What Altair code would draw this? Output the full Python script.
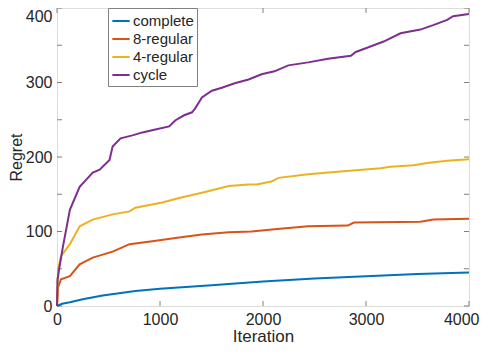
import altair as alt
import pandas as pd

series_names = ["complete", "8-regular", "4-regular", "cycle"]
series_colors = ["#0072BD", "#D95319", "#EDB120", "#7E2F8E"]

complete_it = [0, 50, 125, 250, 443, 761, 1000, 1500, 2000, 2500, 3000, 3500, 4000]
complete_val = [0, 3, 5, 9, 14, 20, 23, 28, 33, 37, 40, 43, 45]

reg8_it = [0, 10, 39, 125, 220, 347, 540, 704, 925, 1186, 1407, 1667, 1889, 2111, 2439,
           2824, 2882, 3528, 3653, 4000]
reg8_val = [0, 25, 36, 40, 56, 65, 73, 83, 87, 92, 96, 99, 100, 103, 107,
            108, 112, 113, 116, 117]

reg4_it = [0, 10, 39, 125, 220, 347, 540, 704, 761, 1022, 1186, 1407, 1667, 1860, 1937,
           2082, 2149, 2439, 2690, 3142, 3238, 3460, 3595, 3788, 4000]
reg4_val = [0, 49, 67, 83, 107, 116, 123, 127, 132, 139, 145, 152, 161, 163, 163,
            167, 172, 177, 180, 185, 187, 189, 192, 195, 197]

cycle_it = [0, 5, 20, 58, 125, 220, 280, 347, 414, 510, 540, 617, 732, 829, 955, 1089,
            1147, 1234, 1311, 1340, 1407, 1504, 1600, 1725, 1860, 1986, 2111, 2246, 2439,
            2631, 2853, 2901, 3017, 3171, 3335, 3528, 3653, 3788, 3846, 4000]
cycle_val = [0, 35, 49, 80, 129, 160, 169, 179, 183, 196, 214, 225, 229, 233, 237, 241,
             249, 256, 260, 265, 280, 289, 293, 299, 304, 311, 315, 323, 327,
             332, 336, 341, 347, 355, 366, 371, 377, 384, 389, 392]

x_ticks = [0, 1000, 2000, 3000, 4000]
y_ticks = [0, 50, 100, 150, 200, 250, 300, 350, 400]

rows = []
for name, its, vals in [("complete", complete_it, complete_val),
                        ("8-regular", reg8_it, reg8_val),
                        ("4-regular", reg4_it, reg4_val),
                        ("cycle", cycle_it, cycle_val)]:
    for i, v in zip(its, vals):
        rows.append({"Iteration": i, "Regret": v, "series": name})
df = pd.DataFrame(rows)

W, H = 412, 298
FONT = "Liberation Sans"
TXT = "#262626"
FRAME = "#808080"

xscale = alt.Scale(domain=[0, 4000], nice=False)
yscale = alt.Scale(domain=[0, 400], nice=False)

lines = alt.Chart(df).mark_line(strokeWidth=2).encode(
    x=alt.X("Iteration:Q", scale=xscale,
            axis=alt.Axis(values=x_ticks, format="d", title="Iteration", grid=False,
                          ticks=False, domain=False, labelPadding=5, labelFlush=False,
                          labelAlign={"condition": {"test": "datum.value == 4000",
                                                    "value": "right"},
                                      "value": "center"},
                          labelOffset={"condition": {"test": "datum.value == 4000",
                                                     "value": 10},
                                       "value": 0},
                          titleX=W / 2, titleY=35, titleBaseline="alphabetic",
                          labelFontSize=16, titleFontSize=17, labelColor=TXT,
                          titleColor=TXT, titleFontWeight="normal", labelFont=FONT,
                          titleFont=FONT)),
    y=alt.Y("Regret:Q", scale=yscale,
            axis=alt.Axis(values=y_ticks, format="d", title="Regret", grid=False,
                          ticks=False, domain=False, labelPadding=5,
                          labelBaseline={"condition": {"test": "datum.value == 400",
                                                       "value": "top"},
                                         "value": "middle"},
                          titleX=-41, titleY=H / 2, titleAngle=-90,
                          titleBaseline="middle",
                          labelFontSize=16, titleFontSize=16, labelColor=TXT,
                          titleColor=TXT, titleFontWeight="normal", labelFont=FONT,
                          titleFont=FONT)),
    color=alt.Color("series:N", sort=series_names,
                    scale=alt.Scale(domain=series_names, range=series_colors),
                    legend=alt.Legend(title=None, orient="none", legendX=51, legendY=0,
                                      symbolType="stroke", symbolStrokeWidth=2,
                                      symbolSize=300, labelFontSize=15, labelFont=FONT,
                                      labelColor=TXT, strokeColor=FRAME, fillColor="white",
                                      padding=3, rowPadding=-2, labelOffset=2,
                                      labelLimit=200)),
    order=alt.Order("Iteration:Q"),
)

ydf = pd.DataFrame({"v": y_ticks})
xdf = pd.DataFrame({"v": x_ticks})

ytick_l = alt.Chart(ydf).mark_rule(color=FRAME, strokeWidth=1).encode(
    y=alt.Y("v:Q", scale=yscale), x=alt.value(0), x2=alt.value(5))
ytick_r = alt.Chart(ydf).mark_rule(color=FRAME, strokeWidth=1).encode(
    y=alt.Y("v:Q", scale=yscale), x=alt.value(W - 5), x2=alt.value(W))
xtick_b = alt.Chart(xdf).mark_rule(color=FRAME, strokeWidth=1).encode(
    x=alt.X("v:Q", scale=xscale), y=alt.value(H - 5), y2=alt.value(H))
xtick_t = alt.Chart(xdf).mark_rule(color=FRAME, strokeWidth=1).encode(
    x=alt.X("v:Q", scale=xscale), y=alt.value(0), y2=alt.value(5))

chart = alt.layer(ytick_l, ytick_r, xtick_b, xtick_t, lines).properties(
    width=W, height=H,
    autosize=alt.AutoSizeParams(type="none"),
    padding={"left": 49, "top": 0, "right": 11, "bottom": 40},
).configure_view(stroke=FRAME, strokeWidth=1).configure(background="white")

chart.save("out.html", embed_options={"renderer": "svg", "actions": False})
